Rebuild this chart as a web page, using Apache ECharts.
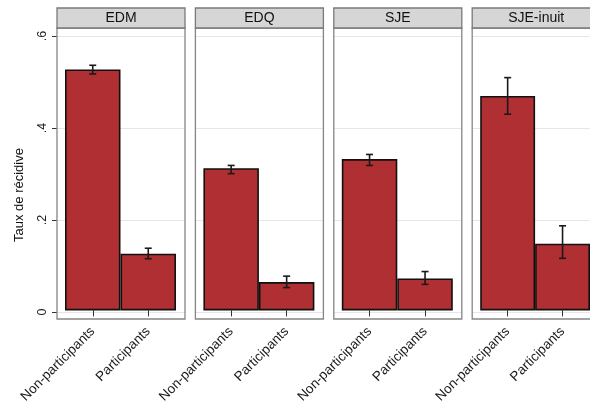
<!DOCTYPE html>
<html>
<head>
<meta charset="utf-8">
<script src="https://cdn.jsdelivr.net/npm/echarts@6/dist/echarts.min.js"></script>
<style>
  html, body { margin: 0; padding: 0; background: #ffffff; }
  #chart { width: 590px; height: 406px; }
</style>
</head>
<body>
<div id="chart"></div>
<script>
// Recidivism rate by program and participation, with 95% confidence intervals
const panels = ['EDM', 'EDQ', 'SJE', 'SJE-inuit'];
const groups = ['Non-participants', 'Participants'];

const rateNonPart = [0.527, 0.311, 0.331, 0.469];
const ratePart    = [0.124, 0.062, 0.070, 0.146];

const lowNonPart  = [0.517, 0.299, 0.317, 0.429];
const highNonPart = [0.536, 0.317, 0.341, 0.509];
const lowPart     = [0.113, 0.050, 0.057, 0.114];
const highPart    = [0.136, 0.075, 0.085, 0.185];

const yTicks      = [0, 0.2, 0.4, 0.6];
const yTickLabels = ['0', '.2', '.4', '.6'];
const yTitle = 'Taux de récidive';

// layout
const FONT = 'Liberation Sans, Arial, Helvetica, sans-serif';
const PANEL_LEFT0 = 57;
const PANEL_STEP = 138.4;
const PANEL_W = 128;
const HEADER_TOP = 8;
const HEADER_H = 20;
const FRAME_BOTTOM = 319;
const PLOT_TOP = 36;      // position of the top tick value
const PLOT_H = 276;       // from top tick value down to zero
const BAR_INSET = 8;
const BAR_AREA_W = 111;
const BAR_COLOR = '#b02f33';

const chart = echarts.init(document.getElementById('chart'), null, { renderer: 'canvas' });

const grids = [], xAxes = [], yAxes = [], series = [], graphics = [];

panels.forEach((name, i) => {
  const left = PANEL_LEFT0 + i * PANEL_STEP;
  const gA = 2 * i, gB = 2 * i + 1;

  // grid carrying gridlines (and the y scale for the first panel)
  grids.push({ left: left, top: PLOT_TOP, width: PANEL_W, height: PLOT_H });
  // grid carrying the bars
  grids.push({ left: left + BAR_INSET, top: PLOT_TOP, width: BAR_AREA_W, height: PLOT_H });

  xAxes.push({ gridIndex: gA, type: 'value', min: 0, max: 1, show: false });
  xAxes.push({
    gridIndex: gB, type: 'category', data: groups, offset: 7,
    axisLine: { show: false },
    axisTick: { show: true, alignWithLabel: true, length: 6, lineStyle: { color: '#333', width: 1 } },
    axisLabel: { interval: 0, rotate: 45, margin: 12, fontSize: 13.5, color: '#1a1a1a', fontFamily: FONT },
    splitLine: { show: false }
  });

  yAxes.push({
    gridIndex: gA, type: 'value', min: yTicks[0], max: yTicks[yTicks.length - 1], interval: 0.2,
    axisLine: { show: false },
    axisTick: { show: i === 0, length: 5, lineStyle: { color: '#333', width: 1 } },
    axisLabel: {
      show: i === 0, rotate: 90, margin: 8, fontSize: 12.5, color: '#1a1a1a', fontFamily: FONT,
      formatter: v => {
        const k = yTicks.findIndex(t => Math.abs(t - v) < 1e-9);
        return k >= 0 ? yTickLabels[k] : '';
      }
    },
    splitLine: { show: true, lineStyle: { color: '#e6e6e6', width: 1 } }
  });
  yAxes.push({
    gridIndex: gB, type: 'value', min: yTicks[0], max: yTicks[yTicks.length - 1], show: false
  });

  series.push({
    type: 'bar', xAxisIndex: gB, yAxisIndex: gB,
    data: [rateNonPart[i], ratePart[i]],
    barWidth: '100%', barCategoryGap: 0,
    itemStyle: { color: BAR_COLOR, borderColor: '#111', borderWidth: 1.6 },
    silent: true, z: 2
  });

  series.push({
    type: 'custom', xAxisIndex: gB, yAxisIndex: gB,
    data: [[0, lowNonPart[i], highNonPart[i]], [1, lowPart[i], highPart[i]]],
    encode: { x: 0, y: [1, 2] },
    z: 5, silent: true,
    renderItem: (params, api) => {
      const top = api.coord([api.value(0), api.value(2)]);
      const bot = api.coord([api.value(0), api.value(1)]);
      const cap = 3.5;
      const st = { stroke: '#1a1a1a', lineWidth: 1.6 };
      return {
        type: 'group',
        children: [
          { type: 'line', shape: { x1: top[0], y1: top[1], x2: bot[0], y2: bot[1] }, style: st },
          { type: 'line', shape: { x1: top[0] - cap, y1: top[1], x2: top[0] + cap, y2: top[1] }, style: st },
          { type: 'line', shape: { x1: bot[0] - cap, y1: bot[1], x2: bot[0] + cap, y2: bot[1] }, style: st }
        ]
      };
    }
  });

  // panel frame and header strip
  graphics.push({
    type: 'rect', z: 50, silent: true,
    shape: { x: left, y: HEADER_TOP + HEADER_H, width: PANEL_W, height: FRAME_BOTTOM - HEADER_TOP - HEADER_H },
    style: { fill: 'none', stroke: '#858585', lineWidth: 1.3 }
  });
  graphics.push({
    type: 'rect', z: 51, silent: true,
    shape: { x: left, y: HEADER_TOP, width: PANEL_W, height: HEADER_H },
    style: { fill: '#d6d6d6', stroke: '#7a7a7a', lineWidth: 1.3 }
  });
  graphics.push({
    type: 'text', z: 52, silent: true,
    x: left + PANEL_W / 2, y: HEADER_TOP + HEADER_H / 2 + 0.5,
    style: { text: name, fill: '#111', font: '14px ' + FONT, textAlign: 'center', textVerticalAlign: 'middle' }
  });
});

graphics.push({
  type: 'text', z: 52, silent: true,
  x: 19, y: 195, rotation: Math.PI / 2,
  style: { text: yTitle, fill: '#111', font: '13px ' + FONT, textAlign: 'center', textVerticalAlign: 'middle' }
});

chart.setOption({
  animation: false,
  backgroundColor: '#ffffff',
  textStyle: { fontFamily: FONT },
  grid: grids,
  xAxis: xAxes,
  yAxis: yAxes,
  series: series,
  graphic: graphics
});
</script>
</body>
</html>
